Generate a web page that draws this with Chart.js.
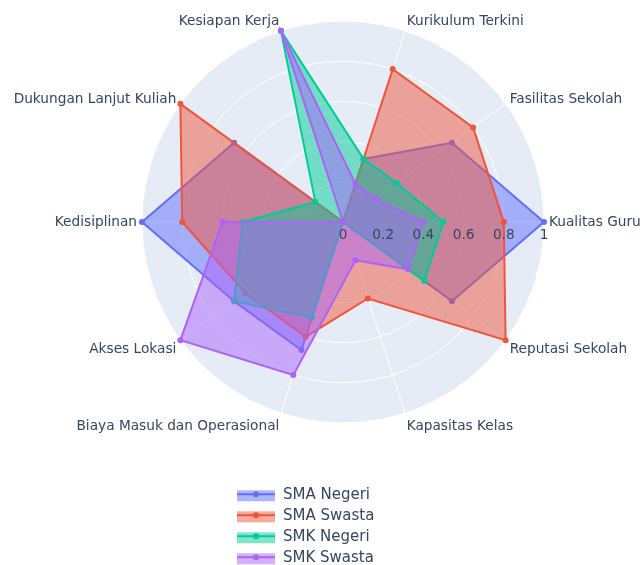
<!DOCTYPE html>
<html>
<head>
<meta charset="utf-8">
<script src="https://cdn.jsdelivr.net/npm/chart.js@4/dist/chart.umd.min.js"></script>
<style>
html,body{margin:0;padding:0;background:#ffffff;}
#wrap{position:relative;width:644px;height:565px;}
</style>
</head>
<body>
<div id="wrap"><canvas id="c" width="644" height="565"></canvas></div>
<script>
// Categories in the reference's order (counter-clockwise from the east)
const categories = ['Kualitas Guru','Fasilitas Sekolah','Kurikulum Terkini','Kesiapan Kerja','Dukungan Lanjut Kuliah','Kedisiplinan','Akses Lokasi','Biaya Masuk dan Operasional','Kapasitas Kelas','Reputasi Sekolah'];
const seriesNames = ['SMA Negeri','SMA Swasta','SMK Negeri','SMK Swasta'];
const smaNegeri = [1.0, 0.67, 0.33, 0, 0.67, 1.0, 0.67, 0.67, 0, 0.67];
const smaSwasta = [0.8, 0.8, 0.8, 0, 1.0, 0.8, 0.6, 0.6, 0.4, 1.0];
const smkNegeri = [0.5, 0.33, 0.33, 1.0, 0.17, 0.5, 0.67, 0.5, 0, 0.5];
const smkSwasta = [0.4, 0.2, 0.2, 1.0, 0, 0.6, 1.0, 0.8, 0.2, 0.4];
const tickValues = [0, 0.2, 0.4, 0.6, 0.8, 1];
const tickLabels = ['0', '0.2', '0.4', '0.6', '0.8', '1'];

const lineColors = ['#636efa', '#EF553B', '#00cc96', '#ab63fa'];
const fillColors = ['rgba(99,110,250,0.5)', 'rgba(239,85,59,0.5)', 'rgba(0,204,150,0.5)', 'rgba(171,99,250,0.5)'];
const FONT = '13.7px "DejaVu Sans", Verdana, sans-serif';
const TEXT = '#36465f';

// Chart.js goes clockwise; reorder so the sequence runs counter-clockwise from east
const order = [0, 9, 8, 7, 6, 5, 4, 3, 2, 1];
const reorder = arr => order.map(i => arr[i]);
const seriesValues = [smaNegeri, smaSwasta, smkNegeri, smkSwasta];

const datasets = seriesValues.map((vals, k) => ({
  label: seriesNames[k],
  data: reorder(vals),
  borderColor: lineColors[k],
  backgroundColor: fillColors[k],
  pointBackgroundColor: lineColors[k],
  pointBorderWidth: 0,
  pointRadius: 3,
  pointHoverRadius: 3,
  borderWidth: 2,
  fill: true,
  order: 3 - k
}));

const overlay = {
  id: 'overlay',
  beforeDraw(chart) {
    const s = chart.scales.r, ctx = chart.ctx;
    ctx.save();
    ctx.beginPath();
    ctx.arc(s.xCenter, s.yCenter, s.drawingArea, 0, Math.PI * 2);
    ctx.fillStyle = '#e5ecf6';
    ctx.fill();
    ctx.restore();
  },
  afterDatasetsDraw(chart) {
    const s = chart.scales.r, ctx = chart.ctx;
    ctx.save();
    ctx.font = FONT;
    ctx.fillStyle = TEXT;
    ctx.textAlign = 'center';
    ctx.textBaseline = 'middle';
    tickValues.forEach((v, i) => {
      const d = s.getDistanceFromCenterForValue(v);
      ctx.fillText(tickLabels[i], s.xCenter + d, s.yCenter + 13.5);
    });
    ctx.restore();
  },
  afterDraw(chart) {
    const s = chart.scales.r, ctx = chart.ctx;
    const labs = chart.data.labels;
    ctx.save();
    ctx.font = FONT;
    ctx.fillStyle = TEXT;
    ctx.textBaseline = 'middle';
    const R = s.drawingArea + 5;
    labs.forEach((lab, k) => {
      const p = s.getPointPosition(k, R);
      const ux = (p.x - s.xCenter) / R, uy = (p.y - s.yCenter) / R;
      ctx.textAlign = ux > 0.05 ? 'left' : (ux < -0.05 ? 'right' : 'center');
      const off = uy >= 0 ? 12 * uy * (1 - 0.25 * uy) : 5.6 * uy * Math.abs(uy);
      ctx.fillText(lab, p.x, p.y + off);
    });
    // legend
    seriesNames.forEach((name, k) => {
      const y = 494.3 + 21 * k;
      ctx.fillStyle = fillColors[k];
      ctx.fillRect(237, y - 4, 38, 11);
      ctx.strokeStyle = lineColors[k];
      ctx.lineWidth = 2;
      ctx.beginPath();
      ctx.moveTo(237, y);
      ctx.lineTo(275, y);
      ctx.stroke();
      ctx.fillStyle = lineColors[k];
      ctx.beginPath();
      ctx.arc(256, y, 3, 0, Math.PI * 2);
      ctx.fill();
      ctx.fillStyle = TEXT;
      ctx.textAlign = 'left';
      ctx.font = '15px "DejaVu Sans", Verdana, sans-serif';
      ctx.fillText(name, 283, y + 0.5);
    });
    ctx.restore();
  }
};

new Chart(document.getElementById('c'), {
  type: 'radar',
  data: { labels: reorder(categories), datasets: datasets },
  options: {
    responsive: false,
    animation: false,
    layout: { padding: { left: 142, right: 100, top: 21, bottom: 142 } },
    elements: { line: { tension: 0, borderJoinStyle: 'miter' } },
    plugins: { legend: { display: false }, tooltip: { enabled: false } },
    scales: {
      r: {
        min: 0,
        max: 1,
        startAngle: 90,
        ticks: { display: false, stepSize: 0.2 },
        pointLabels: { display: false },
        grid: { circular: true, color: '#ffffff', lineWidth: 1 },
        angleLines: { color: '#ffffff', lineWidth: 1 }
      }
    }
  },
  plugins: [overlay]
});
</script>
</body>
</html>
